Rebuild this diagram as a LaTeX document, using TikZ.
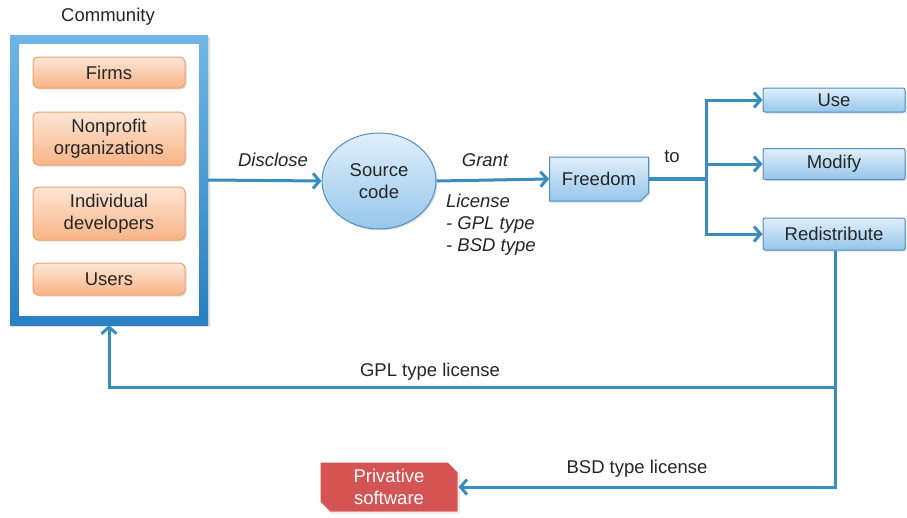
\documentclass[tikz,border=0pt]{standalone}
\usepackage{fontspec}
\setmainfont{Liberation Sans}
\usetikzlibrary{arrows.meta,shapes.geometric,shapes.misc,shadows}

\definecolor{lineblue}{RGB}{58,140,192}
\definecolor{bluetop}{RGB}{224,239,251}
\definecolor{bluebot}{RGB}{150,198,234}
\definecolor{blueedge}{RGB}{78,142,196}
\definecolor{orgtop}{RGB}{253,230,214}
\definecolor{orgbot}{RGB}{248,180,134}
\definecolor{orgedge}{RGB}{240,162,104}
\definecolor{privred}{RGB}{212,84,84}
\definecolor{frametop}{RGB}{112,182,230}
\definecolor{framebot}{RGB}{38,128,194}

\tikzset{
  txt/.style={font=\fontsize{18.5}{22}\selectfont, text=black!85},
  itxt/.style={font=\fontsize{18.5}{22}\selectfont\itshape, text=black!85},
  shadowed/.style={drop shadow={opacity=0.25, shadow xshift=1.5pt, shadow yshift=-1.5pt}},
  member/.style={txt, rounded corners=5pt, draw=orgedge, line width=1pt,
    top color=orgtop, bottom color=orgbot, minimum width=152pt, align=center, shadowed},
  bluebox/.style={txt, rounded corners=2pt, draw=blueedge, line width=1pt,
    top color=bluetop, bottom color=bluebot, minimum width=142pt, align=center, shadowed},
  conn/.style={draw=lineblue, line width=3pt},
  arr/.style={conn, -{Straight Barb[length=6.5pt,width=15pt]}},
  lbl/.style={inner sep=0pt}
}

\begin{document}
\begin{tikzpicture}[x=1pt, y=-1pt]
  \useasboundingbox[fill=white] (0,0) rectangle (907,517);

  % community frame with its members
  \node[txt, lbl] at (108,17) {Community};
  \node[minimum width=198pt, minimum height=290pt, inner sep=0pt,
        top color=frametop, bottom color=framebot, shadowed] (comm) at (109,180) {};
  \fill[white] (19,44) rectangle (199,316);

  \node[member, minimum height=31pt] (firms) at (109,72.5) {Firms};
  \node[member, minimum height=53pt] (nonprofit) at (109,138.5) {Nonprofit\\organizations};
  \node[member, minimum height=53pt] (indiv) at (109,213.5) {Individual\\developers};
  \node[member, minimum height=32pt] (users) at (109,279) {Users};

  % source code and freedom
  \node[txt, ellipse, draw=blueedge, line width=1pt, top color=bluetop, bottom color=bluebot,
        minimum width=114pt, minimum height=96pt, inner sep=0pt, align=center, shadowed]
        (src) at (379,181) {Source\\code};
  \node[txt, chamfered rectangle, chamfered rectangle corners=south east,
        chamfered rectangle xsep=4pt, chamfered rectangle ysep=4pt,
        draw=blueedge, line width=1pt, top color=bluetop, bottom color=bluebot,
        minimum width=99pt, minimum height=44pt, inner sep=2pt, shadowed]
        (freedom) at (599,179) {Freedom};

  % freedoms granted
  \node[bluebox, minimum height=24pt] (use) at (834,100) {Use};
  \node[bluebox, minimum height=31pt] (modify) at (834,164) {Modify};
  \node[bluebox, minimum height=32pt] (redist) at (834,234) {Redistribute};

  % privative software
  \node[txt, text=white, chamfered rectangle, chamfered rectangle corners={north east,south west},
        chamfered rectangle xsep=5pt, chamfered rectangle ysep=5pt,
        fill=privred, draw=white, line width=1pt, minimum width=138pt, minimum height=50pt,
        inner sep=2pt, align=center, shadowed] (priv) at (389,487) {Privative\\software};

  % connectors
  \draw[arr] (comm.east) -- (src.west);
  \draw[arr] (src.east) -- (freedom.west);
  \coordinate (hub) at (706,179);
  \draw[conn, line width=4.5pt] (freedom.east) -- (hub);
  \draw[arr] (hub) |- (use.west);
  \draw[arr] (hub) |- (modify.west);
  \draw[arr] (hub) |- (redist.west);
  \coordinate (split) at (835,387);
  \draw[arr] (redist.south -| split) -- (split) -| (comm.south);
  \draw[arr] (split) |- (priv.east);

  % labels
  \node[itxt, lbl] at (273,160) {Disclose};
  \node[itxt, lbl] at (485,160) {Grant};
  \node[itxt, lbl, align=left, anchor=west] at (446,225) {License\\- GPL type\\- BSD type};
  \node[txt, lbl] at (672,157) {to};
  \node[txt, lbl] at (430,372) {GPL type license};
  \node[txt, lbl] at (637,469) {BSD type license};
\end{tikzpicture}
\end{document}
